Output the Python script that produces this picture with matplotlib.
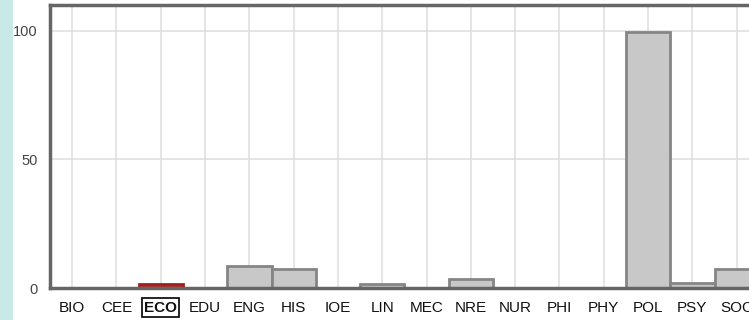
import numpy as np
import matplotlib.pyplot as plt
from matplotlib.patches import Rectangle

# Department codes and values
depts = ["BIO", "CEE", "ECO", "EDU", "ENG", "HIS", "IOE", "LIN", "MEC",
         "NRE", "NUR", "PHI", "PHY", "POL", "PSY", "SOC"]
values = [0, 0, 1.5, 0, 8.7, 7.4, 0, 1.5, 0, 3.5, 0, 0, 0, 99.5, 2.0, 7.5]
highlight = "ECO"

plt.rcParams["font.family"] = ["Liberation Sans", "DejaVu Sans"]

W, H = 749, 320
fig = plt.figure(figsize=(W / 100, H / 100), dpi=100)
fig.patch.set_facecolor("white")

# light teal strip at the left edge
fig.patches.append(Rectangle((0, 0), 13 / W, 1, transform=fig.transFigure,
                             facecolor="#c9e8e8", edgecolor="none", zorder=0))

ax = fig.add_axes([50 / W, 1 - 288 / H, 731 / W, 283 / H])
x = np.arange(len(depts))

fills = ["#b22a2a" if d == highlight else "#c8c8c8" for d in depts]
edges = ["#a02020" if d == highlight else "#858585" for d in depts]
ax.bar(x, values, width=1.0, color=fills, edgecolor=edges, linewidth=2,
       zorder=2)

ax.set_xlim(-0.5, 16.0)
ax.set_ylim(0, 110)
ax.set_yticks([0, 50, 100])
ax.set_xticks(x)
ax.set_xticklabels(depts)
ax.grid(True, color="#dcdcdc", linewidth=1.3)
for gl in ax.get_xgridlines() + ax.get_ygridlines():
    gl.set_zorder(3)
    gl.set_alpha(0.8)

for s in ax.spines.values():
    s.set_color("#666666")
    s.set_linewidth(2.5)
    s.set_zorder(4)

ax.tick_params(length=0)
ax.tick_params(axis="x", labelsize=11, pad=9, colors="#111111")
ax.tick_params(axis="y", labelsize=10.5, pad=9, colors="#444444")

for lab in ax.get_xticklabels():
    if lab.get_text() == highlight:
        lab.set_fontweight("bold")
        lab.set_bbox(dict(facecolor="white", edgecolor="black",
                          linewidth=1.2, pad=1.5))

fig.savefig("out.png", dpi=100)
